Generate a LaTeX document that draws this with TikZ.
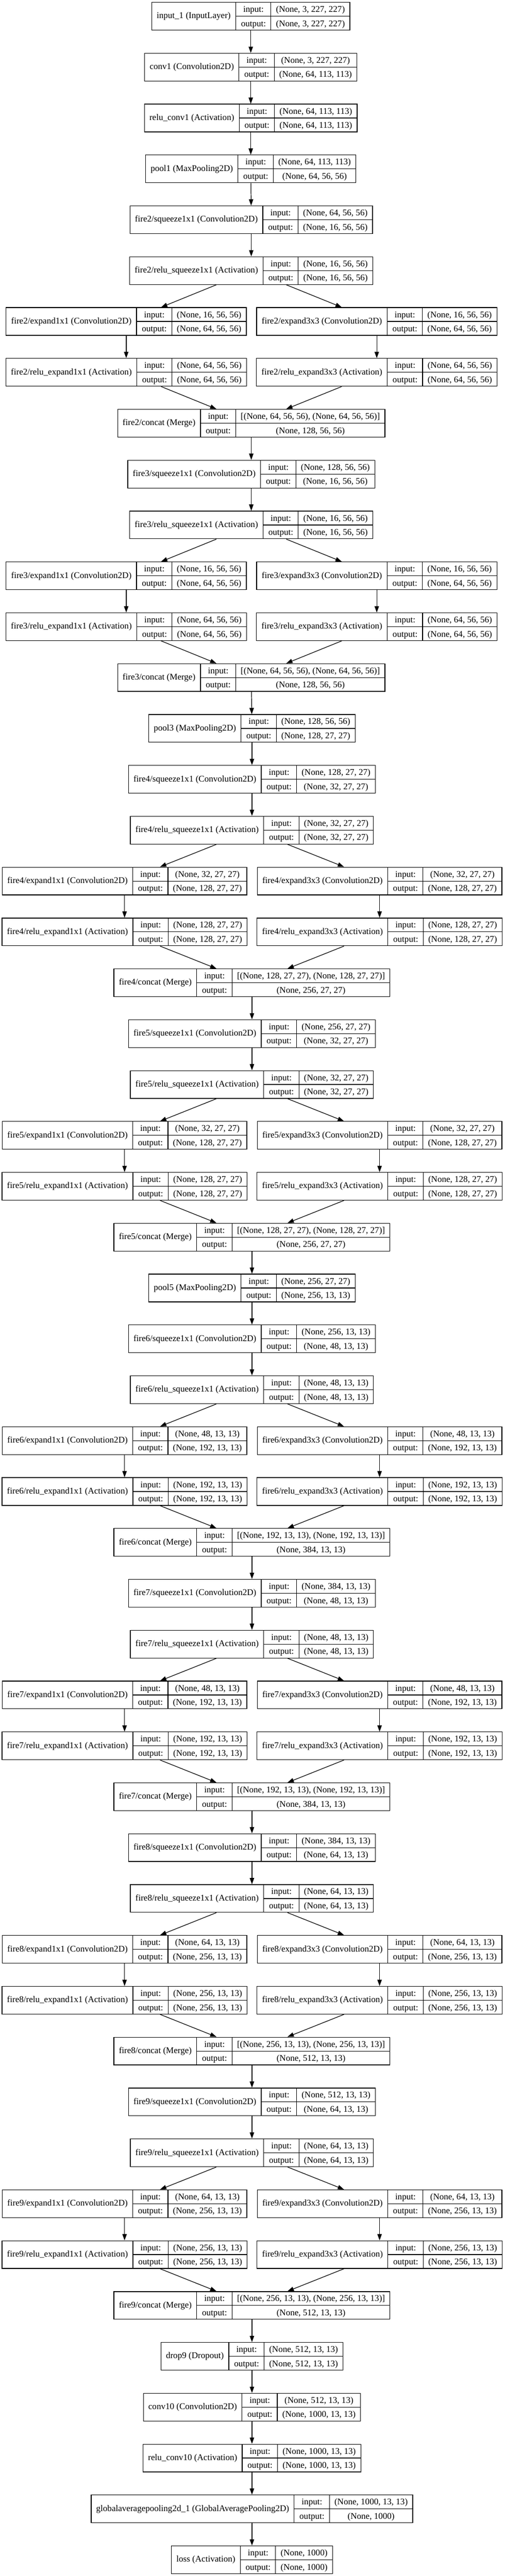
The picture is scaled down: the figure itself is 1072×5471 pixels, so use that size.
\documentclass[tikz,border=0pt]{standalone}
\usepackage{fontspec}
\setmainfont{Liberation Serif}
\usepackage{tikz}
\usetikzlibrary{arrows.meta}
\setlength{\tabcolsep}{8pt}
\setlength{\arrayrulewidth}{1pt}
\tikzset{>={Triangle[length=10pt,width=7pt]}}
\tikzset{layerbox/.style={draw, line width=1pt, inner sep=0pt, font=\fontsize{14}{17}\selectfont},
         edge/.style={->, line width=1pt}}
\newcommand{\rs}{\rule[-6pt]{0pt}{21.6pt}}
% one record: name, x, row, label, input, output
\newcommand{\layer}[6]{%
  \node[layerbox] (#1) at (#2, {34.5+(#3-1)*108.04})
    {\begin{tabular}{c|@{}c@{}}#4 & \begin{tabular}{c|c}\rs input: & #5\\\hline\rs output: & #6\end{tabular}\end{tabular}};}
% one fire module: index, row, squeeze in, squeeze out, expand out, concat out, x main, x left, x right
\newcommand{\fire}[9]{%
  \layer{f#1sq}{#7}{#2}{fire#1/squeeze1x1 (Convolution2D)}{(None, #3)}{(None, #4)}
  \layer{f#1rsq}{#7}{#2+1}{fire#1/relu\_squeeze1x1 (Activation)}{(None, #4)}{(None, #4)}
  \layer{f#1ea}{#8}{#2+2}{fire#1/expand1x1 (Convolution2D)}{(None, #4)}{(None, #5)}
  \layer{f#1eb}{#9}{#2+2}{fire#1/expand3x3 (Convolution2D)}{(None, #4)}{(None, #5)}
  \layer{f#1rea}{#8}{#2+3}{fire#1/relu\_expand1x1 (Activation)}{(None, #5)}{(None, #5)}
  \layer{f#1reb}{#9}{#2+3}{fire#1/relu\_expand3x3 (Activation)}{(None, #5)}{(None, #5)}
  \layer{f#1cat}{#7}{#2+4}{fire#1/concat (Merge)}{[(None, #5), (None, #5)]}{(None, #6)}
  \draw[edge] (f#1sq) -- (f#1rsq);
  \draw[edge] (f#1rsq) -- (f#1ea);
  \draw[edge] (f#1rsq) -- (f#1eb);
  \draw[edge] (f#1ea) -- (f#1rea);
  \draw[edge] (f#1eb) -- (f#1reb);
  \draw[edge] (f#1rea) -- (f#1cat);
  \draw[edge] (f#1reb) -- (f#1cat);}

\begin{document}
\begin{tikzpicture}[x=0.75pt, y=-0.75pt]
    \useasboundingbox (0,0) rectangle (1072,5471);

    \layer{input1}{532.5}{1}{input\_1 (InputLayer)}{(None, 3, 227, 227)}{(None, 3, 227, 227)}
    \layer{conv1}{532.5}{2}{conv1 (Convolution2D)}{(None, 3, 227, 227)}{(None, 64, 113, 113)}
    \layer{reluconv1}{532.5}{3}{relu\_conv1 (Activation)}{(None, 64, 113, 113)}{(None, 64, 113, 113)}
    \layer{pool1}{532.5}{4}{pool1 (MaxPooling2D)}{(None, 64, 113, 113)}{(None, 64, 56, 56)}

    \fire{2}{5}{64, 56, 56}{16, 56, 56}{64, 56, 56}{128, 56, 56}{533.5}{268}{800}
    \fire{3}{10}{128, 56, 56}{16, 56, 56}{64, 56, 56}{128, 56, 56}{533.5}{268}{800}
    \layer{pool3}{535}{15}{pool3 (MaxPooling2D)}{(None, 128, 56, 56)}{(None, 128, 27, 27)}
    \fire{4}{16}{128, 27, 27}{32, 27, 27}{128, 27, 27}{256, 27, 27}{535}{264.5}{806}
    \fire{5}{21}{256, 27, 27}{32, 27, 27}{128, 27, 27}{256, 27, 27}{535}{264.5}{806}
    \layer{pool5}{535}{26}{pool5 (MaxPooling2D)}{(None, 256, 27, 27)}{(None, 256, 13, 13)}
    \fire{6}{27}{256, 13, 13}{48, 13, 13}{192, 13, 13}{384, 13, 13}{535}{264.5}{806}
    \fire{7}{32}{384, 13, 13}{48, 13, 13}{192, 13, 13}{384, 13, 13}{535}{264.5}{806}
    \fire{8}{37}{384, 13, 13}{64, 13, 13}{256, 13, 13}{512, 13, 13}{535}{264.5}{806}
    \fire{9}{42}{512, 13, 13}{64, 13, 13}{256, 13, 13}{512, 13, 13}{535}{264.5}{806}
    \layer{drop9}{535}{47}{drop9 (Dropout)}{(None, 512, 13, 13)}{(None, 512, 13, 13)}
    \layer{conv10}{535}{48}{conv10 (Convolution2D)}{(None, 512, 13, 13)}{(None, 1000, 13, 13)}
    \layer{reluconv10}{535}{49}{relu\_conv10 (Activation)}{(None, 1000, 13, 13)}{(None, 1000, 13, 13)}
    \layer{gap}{535}{50}{globalaveragepooling2d\_1 (GlobalAveragePooling2D)}{(None, 1000, 13, 13)}{(None, 1000)}
    \layer{loss}{535}{51}{loss (Activation)}{(None, 1000)}{(None, 1000)}

    \draw[edge] (input1) -- (conv1);
    \draw[edge] (conv1) -- (reluconv1);
    \draw[edge] (reluconv1) -- (pool1);
    \draw[edge] (pool1) -- (f2sq);
    \draw[edge] (f2cat) -- (f3sq);
    \draw[edge] (f3cat) -- (pool3);
    \draw[edge] (pool3) -- (f4sq);
    \draw[edge] (f4cat) -- (f5sq);
    \draw[edge] (f5cat) -- (pool5);
    \draw[edge] (pool5) -- (f6sq);
    \draw[edge] (f6cat) -- (f7sq);
    \draw[edge] (f7cat) -- (f8sq);
    \draw[edge] (f8cat) -- (f9sq);
    \draw[edge] (f9cat) -- (drop9);
    \draw[edge] (drop9) -- (conv10);
    \draw[edge] (conv10) -- (reluconv10);
    \draw[edge] (reluconv10) -- (gap);
    \draw[edge] (gap) -- (loss);
\end{tikzpicture}
\end{document}
